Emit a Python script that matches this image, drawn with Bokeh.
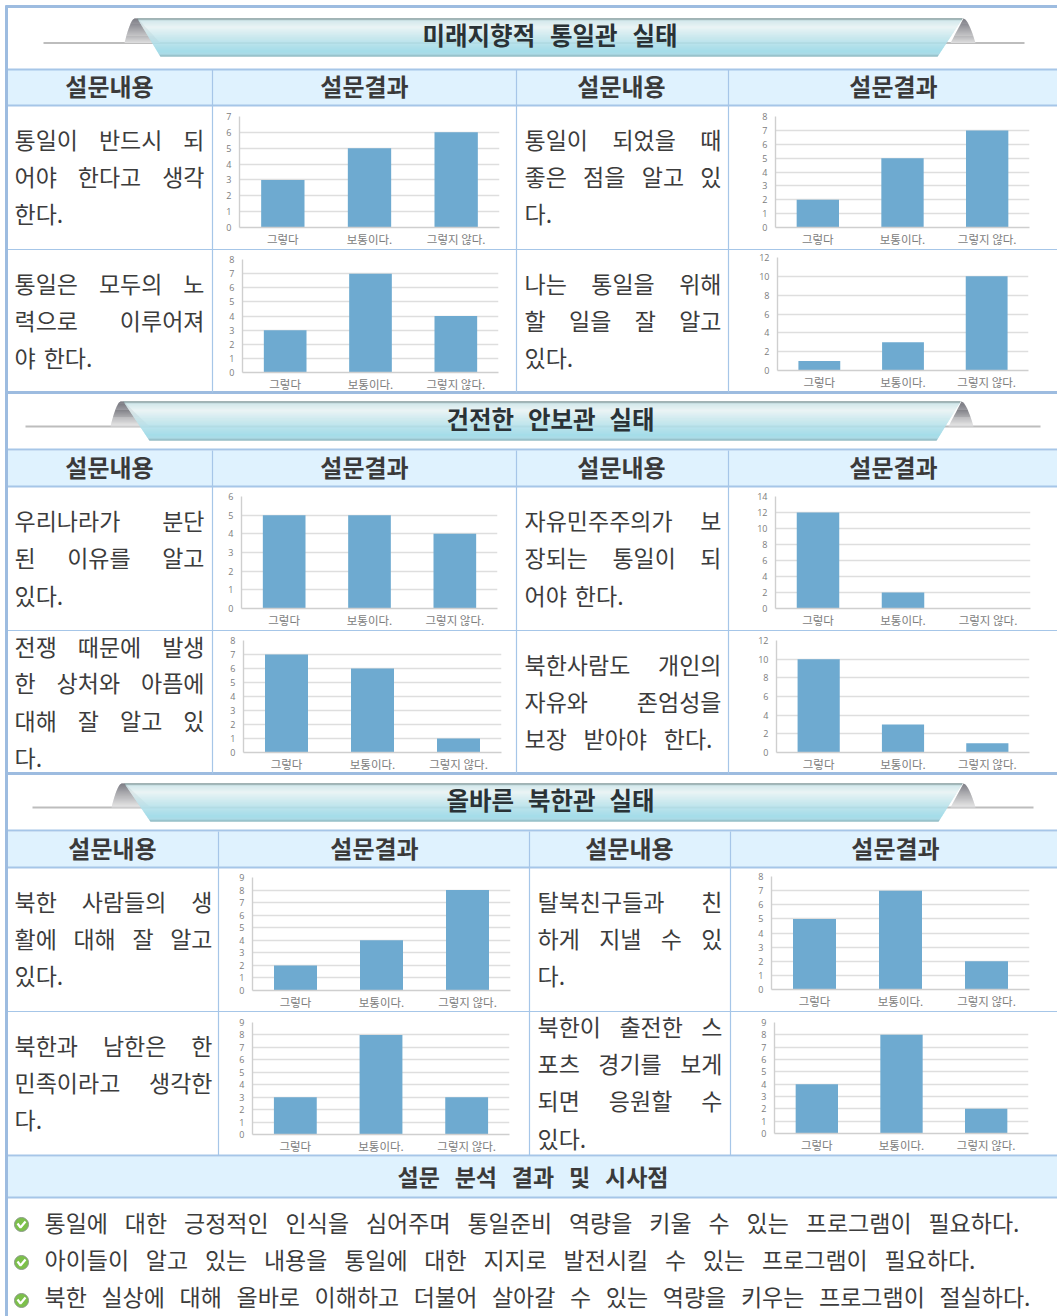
from bokeh.plotting import figure
from bokeh.models import Range1d, FactorRange, FixedTicker, ColumnDataSource, Column
from bokeh.core.properties import value
from bokeh.embed import file_html
from bokeh.resources import INLINE

FONT = "Noto Sans CJK KR"
W, H = 1057, 1316

# ---- data -------------------------------------------------------------
categories = ["그렇다", "보통이다.", "그렇지 않다."]
section_titles = ["미래지향적 통일관 실태", "건전한 안보관 실태", "올바른 북한관 실태"]
header_labels = ["설문내용", "설문결과", "설문내용", "설문결과"]
footer_title = "설문 분석 결과 및 시사점"
footer_lines = [
    "통일에 대한 긍정적인 인식을 심어주며 통일준비 역량을 키울 수 있는 프로그램이 필요하다.",
    "아이들이 알고 있는 내용을 통일에 대한 지지로 발전시킬 수 있는 프로그램이 필요하다.",
    "북한 실상에 대해 올바로 이해하고 더불어 살아갈 수 있는 역량을 키우는 프로그램이 절실하다.",
]
chart1 = [3, 5, 6]
chart2 = [2, 5, 7]
chart3 = [3, 7, 4]
chart4 = [1, 3, 10]
chart5 = [5, 5, 4]
chart6 = [12, 2, 0]
chart7 = [7, 6, 1]
chart8 = [10, 3, 1]
chart9 = [2, 4, 8]
chart10 = [5, 7, 2]
chart11 = [3, 8, 3]
chart12 = [4, 8, 2]
axis_max = [7, 8, 8, 12, 6, 14, 8, 12, 9, 8, 9, 9]
axis_step = [1, 1, 1, 2, 1, 2, 1, 2, 1, 1, 1, 1]
all_charts = [chart1, chart2, chart3, chart4, chart5, chart6,
              chart7, chart8, chart9, chart10, chart11, chart12]

# ---- page geometry ------------------------------------------------------
# frame left, right, top(max value), bottom(zero); cell left, right, top, bottom
geom = [
    (239, 499, 116, 227, 213, 516, 106, 249),
    (775, 1029, 116, 227, 729, 1057, 106, 249),
    (242, 498, 259, 372, 213, 516, 250, 392),
    (777, 1028, 257, 370, 729, 1057, 250, 392),
    (241, 497, 496, 608, 213, 516, 487, 630),
    (775, 1030, 496, 608, 729, 1057, 487, 630),
    (243, 501, 640, 752, 213, 516, 631, 773),
    (776, 1029, 640, 752, 729, 1057, 631, 773),
    (252, 510, 877, 990, 219, 529, 868, 1011),
    (771, 1029, 876, 989, 731, 1057, 868, 1011),
    (252, 509, 1022, 1134, 219, 529, 1012, 1155),
    (774, 1028, 1022, 1133, 731, 1057, 1012, 1155),
]

BORDER = "#a6c6e8"
THICK = "#9dbce0"
HDR = "#dff2fe"
INK = "#3a3a3a"

bg = figure(width=W, height=H, x_range=Range1d(0, W), y_range=Range1d(H, 0),
            output_backend="svg", toolbar_location=None, min_border=0,
            x_axis_type=None, y_axis_type=None, outline_line_color=None,
            background_fill_color="white", border_fill_color="white")
bg.grid.visible = False

# header / footer tints
for t, b in [(69, 105), (450, 486), (831, 867), (1156, 1197)]:
    bg.quad(left=[7], right=[W], top=[t], bottom=[b], fill_color=HDR, line_color=None)

# horizontal rules
for y, w, c in [(69, 2, BORDER), (105, 2, BORDER), (249, 1, BORDER), (392, 3, THICK),
                (449, 2, BORDER), (486, 2, BORDER), (630, 1, BORDER), (773, 3, THICK),
                (830, 2, BORDER), (867, 2, BORDER), (1011, 1, BORDER), (1155, 2, BORDER),
                (1197, 2, BORDER), (6, 3, THICK)]:
    bg.segment([5], [y], [W], [y], line_color=c, line_width=w)
# vertical rules
for x, t, b in [(212, 69, 392), (516, 69, 392), (728, 69, 392),
                (212, 450, 773), (516, 450, 773), (728, 450, 773),
                (218, 831, 1155), (529, 831, 1155), (730, 831, 1155)]:
    bg.segment([x], [t], [x], [b], line_color=BORDER, line_width=1.2)
bg.segment([6], [5], [6], [H], line_color=THICK, line_width=3)


def lerp(c0, c1, t):
    return "#%02x%02x%02x" % tuple(round(a + (b - a) * t) for a, b in zip(c0, c1))


band_stops = [(0.0, (112, 138, 140)), (0.05, (205, 230, 233)), (0.22, (232, 243, 244)),
              (0.45, (200, 231, 237)), (0.85, (152, 216, 230)), (0.93, (160, 215, 228)),
              (1.0, (118, 160, 168))]
peak_stops = [(0.0, (85, 85, 95)), (0.45, (150, 150, 155)), (1.0, (226, 226, 226))]


def shade(stops, t):
    for (t0, c0), (t1, c1) in zip(stops, stops[1:]):
        if t <= t1:
            return lerp(c0, c1, (t - t0) / (t1 - t0))
    return lerp(stops[-1][1], stops[-1][1], 0)


def title_band(top, bottom, tl, bl, tr, br, line_l, line_r, line_y):
    bg.segment([line_l], [line_y], [line_r], [line_y], line_color="#bdbdbd", line_width=2)
    # grey peaks
    n = 24
    for side in (0, 1):
        apex = tl - 3 if side == 0 else tr + 1
        for i in range(n):
            t0, t1 = i / n, (i + 1) / n
            y0, y1 = top + (line_y - top) * t0, top + (line_y - top) * t1
            if side == 0:
                xs = [apex - 10 * t0 ** 0.6 , apex - 10 * t1 ** 0.6, apex + (bl - tl) * t1 * 1.0 + 3, apex + (bl - tl) * t0 + 3]
            else:
                xs = [apex + 12 * t0 ** 0.6, apex + 12 * t1 ** 0.6, apex - 13 * t1, apex - 13 * t0]
            bg.patch(xs, [y0, y1, y1, y0], fill_color=shade(peak_stops, t0), line_color=None)
    # band
    n = int(bottom - top)
    for i in range(n):
        t0, t1 = i / n, (i + 1) / n
        y0, y1 = top + (bottom - top) * t0, top + (bottom - top) * t1
        xs = [tl + (bl - tl) * t0, bl * t1 + tl * (1 - t1), br * t1 + tr * (1 - t1), br * t0 + tr * (1 - t0)]
        bg.patch(xs, [y0, y1, y1, y0], fill_color=shade(band_stops, t0), line_color=shade(band_stops, t0),
                 line_width=0.3)


title_band(18, 56, 137, 160, 962, 937, 43, 1024, 42.5)
title_band(401, 440, 123, 149, 960, 936, 25, 1040, 426)
title_band(783, 821, 124, 150, 962, 938, 32, 1033, 807)

# ---- text --------------------------------------------------------------
rows = {"x": [], "y": [], "t": [], "a": []}
TEXT_DY = -2


def em(s, size):
    w = 0
    for ch in s:
        w += 0.92 if ch >= "가" else 0.28
    return w * size


def put(store, x, y, s, a="left"):
    store["x"].append(x)
    store["y"].append(y + TEXT_DY)
    store["t"].append(s)
    store["a"].append(a)


def justify(store, s, x0, x1, y, size):
    words = s.split(" ")
    if len(words) == 1:
        put(store, x0, y, s)
        return
    widths = [em(w, size) for w in words]
    gap = (x1 - x0 - sum(widths)) / (len(words) - 1)
    x = x0
    for w, ww in zip(words, widths):
        put(store, x, y, w)
        x += ww + gap


BODY = 23
cells = [
    (14, 204, [140, 177, 214], [("통일이 반드시 되", 1), ("어야 한다고 생각", 1), ("한다.", 0)]),
    (524, 721, [140, 177, 214], [("통일이 되었을 때", 1), ("좋은 점을 알고 있", 1), ("다.", 0)]),
    (14, 204, [284, 321, 358], [("통일은 모두의 노", 1), ("력으로 이루어져", 1), ("야 한다.", 0)]),
    (524, 721, [284, 321, 358], [("나는 통일을 위해", 1), ("할 일을 잘 알고", 1), ("있다.", 0)]),
    (14, 204, [521, 558, 596], [("우리나라가 분단", 1), ("된 이유를 알고", 1), ("있다.", 0)]),
    (524, 721, [521, 558, 596], [("자유민주주의가 보", 1), ("장되는 통일이 되", 1), ("어야 한다.", 0)]),
    (14, 204, [647, 683, 721, 758], [("전쟁 때문에 발생", 1), ("한 상처와 아픔에", 1), ("대해 잘 알고 있", 1), ("다.", 0)]),
    (524, 721, [665, 702, 739], [("북한사람도 개인의", 1), ("자유와 존엄성을", 1), ("보장 받아야 한다.", 2)]),
    (14, 212, [902, 939, 976], [("북한 사람들의 생", 1), ("활에 대해 잘 알고", 1), ("있다.", 0)]),
    (537, 722, [902, 939, 976], [("탈북친구들과 친", 1), ("하게 지낼 수 있", 1), ("다.", 0)]),
    (14, 212, [1046, 1083, 1120], [("북한과 남한은 한", 1), ("민족이라고 생각한", 1), ("다.", 0)]),
    (537, 722, [1027, 1064, 1101, 1139], [("북한이 출전한 스", 1), ("포츠 경기를 보게", 1), ("되면 응원할 수", 1), ("있다.", 0)]),
]
for x0, x1, ys, lines in cells:
    for y, (s, mode) in zip(ys, lines):
        if mode == 1:
            justify(rows, s, x0, x1, y, BODY)
        elif mode == 2:
            justify(rows, s, x0, x0 + 188, y, BODY)
        else:
            justify(rows, s, x0, x0 + em(s.replace(" ", ""), BODY) + 8 * s.count(" "), y, BODY)

for s, end, y in zip(footer_lines, [1019, 975, 1030], [1223, 1260, 1297]):
    justify(rows, s, 44, end, y, BODY)

bg.text("x", "y", text="t", source=ColumnDataSource(rows), text_font=value(FONT),
        text_font_size=f"{BODY}px", text_color="#3c3c3c", text_baseline="middle", text_align="left")

heads = {"x": [], "y": [], "t": [], "a": []}
for y, xs in [(87, [109, 364, 621, 893]), (468, [109, 364, 621, 893]), (849, [112, 374, 629, 895])]:
    for x, s in zip(xs, header_labels):
        put(heads, x, y, s, "center")
bg.text("x", "y", text="t", source=ColumnDataSource(heads), text_font=value(FONT),
        text_font_size="24px", text_font_style="bold", text_color=INK,
        text_baseline="middle", text_align="center")

TITLE = 24.5
tt = {"x": [], "y": [], "t": [], "a": []}
justify(tt, section_titles[0], 422, 677, 36, TITLE)
justify(tt, section_titles[1], 446, 654, 420, TITLE)
justify(tt, section_titles[2], 446, 654, 801, TITLE)
bg.text("x", "y", text="t", source=ColumnDataSource(tt), text_font=value(FONT),
        text_font_size=f"{TITLE}px", text_font_style="bold", text_color="#2a3236",
        text_baseline="middle", text_align="left")

ft_store = {"x": [], "y": [], "t": [], "a": []}
justify(ft_store, footer_title, 397, 668, 1177, 23)
bg.text("x", "y", text="t", source=ColumnDataSource(ft_store), text_font=value(FONT),
        text_font_size="23px", text_font_style="bold", text_color=INK,
        text_baseline="middle", text_align="left")

# bullets
bullet_x = [21, 21, 21]
bullet_y = [1224, 1262, 1300]
bg.scatter(bullet_x, bullet_y, size=14, fill_color="#7cc04a", line_color="#8a9a88", line_width=1)
for x, y in zip(bullet_x, bullet_y):
    bg.line([x - 4, x - 1, x + 4], [y - 1, y + 3, y - 3], line_color="white", line_width=2.2)

# ---- charts -------------------------------------------------------------
figs = [Column(children=[bg], spacing=0)]
prev_bottom = H
EXTRA = 12  # transparent room below each chart so the category labels never squeeze the frame
for vals, ymax, step, (fl, fr, ft, fb, cl, cr, ct, cb) in zip(all_charts, axis_max, axis_step, geom):
    w, h = cr - cl, cb + EXTRA - ct
    f = figure(width=w, height=h, x_range=FactorRange(*categories, range_padding=0),
               y_range=Range1d(0, ymax), output_backend="svg", toolbar_location=None,
               min_border_left=fl - cl, min_border_right=cr - fr,
               min_border_top=ft - ct, min_border_bottom=cb + EXTRA - fb,
               outline_line_color=None, background_fill_color=None, border_fill_color=None)
    f.vbar(x=categories, top=vals, width=0.5, fill_color="#6eaad0", line_color=None)
    f.xgrid.visible = False
    f.ygrid.grid_line_color = "#dedede"
    f.ygrid.grid_line_width = 1.4
    f.ygrid.ticker = FixedTicker(ticks=list(range(0, ymax + 1, step)))
    f.yaxis.ticker = FixedTicker(ticks=list(range(0, ymax + 1, step)))
    for ax in (f.xaxis[0], f.yaxis[0]):
        ax.major_tick_line_color = None
        ax.major_tick_in = 0
        ax.major_tick_out = 0
        ax.minor_tick_line_color = None
        ax.minor_tick_in = 0
        ax.minor_tick_out = 0
        ax.axis_line_color = "#cfcfcf"
        ax.axis_line_width = 1.4
        ax.major_label_text_color = "#7c7c7c"
    f.yaxis.major_label_text_font = "Open Sans"
    f.yaxis.major_label_text_font_size = "9px"
    f.yaxis.major_label_standoff = 8
    f.xaxis.major_label_text_font = FONT
    f.xaxis.major_label_text_font_size = "11.5px"
    f.xaxis.major_label_standoff = 3
    f.xaxis.major_label_orientation = "horizontal"
    figs.append(Column(children=[f], spacing=0, margin=(ct - prev_bottom, 0, 0, cl)))
    prev_bottom = cb + EXTRA

root = Column(children=figs, spacing=0, margin=(0, 0, 0, 0))
open("out.html", "w").write(file_html(root, INLINE))
